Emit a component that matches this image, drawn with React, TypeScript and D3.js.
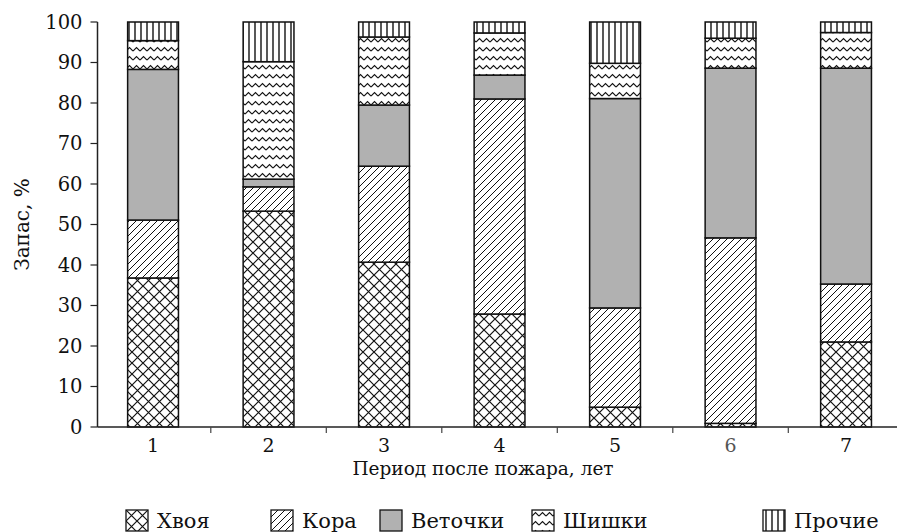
import React from 'react';
import * as d3 from 'd3';

const periods = ['1', '2', '3', '4', '5', '6', '7'];
const seriesNames = ['Хвоя', 'Кора', 'Веточки', 'Шишки', 'Прочие'];
// percent share of each fraction per period
const hvoya = [36.8, 53.3, 40.7, 27.9, 4.9, 0.9, 21.0];
const kora = [14.3, 6.0, 23.7, 53.1, 24.5, 45.8, 14.3];
const vetochki = [37.2, 1.9, 15.1, 5.9, 51.7, 41.9, 53.3];
const shishki = [7.1, 29.0, 16.8, 10.4, 8.7, 7.4, 8.8];
const prochie = [4.6, 9.8, 3.7, 2.7, 10.2, 4.0, 2.6];
const yTicks = [0, 10, 20, 30, 40, 50, 60, 70, 80, 90, 100];

const fills = ['url(#pCross)', 'url(#pDiag)', '#b1b1b1', 'url(#pZig)', 'url(#pVert)'];
const FONT = 'DejaVu Serif';

export default function App() {
  const W = 897;
  const H = 532;
  const left = 97.5;
  const bottom = 427;
  const top = 22;

  const x = d3.scaleBand().domain(periods).range([95.3, 903.8]).paddingInner(0.56).paddingOuter(0.28);
  const y = d3.scaleLinear().domain([0, 100]).range([bottom, top]);

  const rows = periods.map((p, i) => ({
    period: p,
    Хвоя: hvoya[i],
    Кора: kora[i],
    Веточки: vetochki[i],
    Шишки: shishki[i],
    Прочие: prochie[i],
  }));
  const stacked = d3.stack<any>().keys(seriesNames)(rows);
  const step = x.step();

  const legendX = [126, 271, 380, 532, 763];

  return (
    <svg width={W} height={H} style={{ position: 'absolute', left: 0, top: 0, background: '#fff' }}>
      <defs>
        <pattern id="pCross" patternUnits="userSpaceOnUse" width={11} height={11}>
          <rect width={11} height={11} fill="#fff" />
          <path d="M0,0L11,11M11,0L0,11" stroke="#111" strokeWidth={1.2} />
        </pattern>
        <pattern id="pDiag" patternUnits="userSpaceOnUse" width={7} height={7}>
          <rect width={7} height={7} fill="#fff" />
          <path d="M0,7L7,0M-1,1L1,-1M6,8L8,6" stroke="#111" strokeWidth={1} />
        </pattern>
        <pattern id="pZig" patternUnits="userSpaceOnUse" width={7} height={9}>
          <rect width={7} height={9} fill="#fff" />
          <path d="M0,6L3.5,2.5L7,6" stroke="#111" strokeWidth={1.1} fill="none" />
        </pattern>
        <pattern id="pVert" patternUnits="userSpaceOnUse" width={6} height={10}>
          <rect width={6} height={10} fill="#fff" />
          <path d="M3,0L3,10" stroke="#111" strokeWidth={1.4} />
        </pattern>
      </defs>

      {stacked.map((s, si) => (
        <g key={s.key}>
          {s.map((d, i) => (
            <rect
              key={i}
              x={x(periods[i])!}
              y={y(d[1])}
              width={x.bandwidth()}
              height={y(d[0]) - y(d[1])}
              fill={fills[si]}
              stroke="#111"
              strokeWidth={1.5}
            />
          ))}
        </g>
      ))}

      {/* y axis */}
      <line x1={left} x2={left} y1={top} y2={bottom} stroke="#222" strokeWidth={1.5} />
      {yTicks.map((t) => (
        <g key={t}>
          <line x1={left - 7} x2={left} y1={y(t)} y2={y(t)} stroke="#222" strokeWidth={1.2} />
          <text x={left - 15} y={y(t)} dy="0.35em" textAnchor="end" fontFamily={FONT} fontSize={19.5} fill="#111">
            {t}
          </text>
        </g>
      ))}

      {/* x axis */}
      <line x1={left} x2={W} y1={bottom} y2={bottom} stroke="#222" strokeWidth={1.5} />
      {periods.slice(1).map((p) => (
        <line
          key={p}
          x1={x(p)! + x.bandwidth() / 2 - step / 2}
          x2={x(p)! + x.bandwidth() / 2 - step / 2}
          y1={bottom}
          y2={bottom + 6}
          stroke="#444"
          strokeWidth={1.2}
        />
      ))}
      {periods.map((p) => (
        <text
          key={p}
          x={x(p)! + x.bandwidth() / 2}
          y={445}
          dy="0.35em"
          textAnchor="middle"
          fontFamily={FONT}
          fontSize={19}
          fill={p === '6' ? '#555' : '#111'}
        >
          {p}
        </text>
      ))}
      <text x={483} y={469} dy="0.35em" textAnchor="middle" fontFamily={FONT} fontSize={18.5} fill="#111">
        Период после пожара, лет
      </text>
      <text
        transform={`translate(22,${(top + bottom) / 2}) rotate(-90)`}
        dy="0.35em"
        textAnchor="middle"
        fontFamily={FONT}
        fontSize={20}
        fill="#111"
      >
        Запас, %
      </text>

      {/* legend */}
      {seriesNames.map((n, i) => (
        <g key={n} transform={`translate(${legendX[i]},510)`}>
          <rect width={22} height={21} fill={fills[i]} stroke="#111" strokeWidth={1.3} />
          <text x={31} y={11} dy="0.35em" fontFamily={FONT} fontSize={21} fill="#111">
            {n}
          </text>
        </g>
      ))}
    </svg>
  );
}
